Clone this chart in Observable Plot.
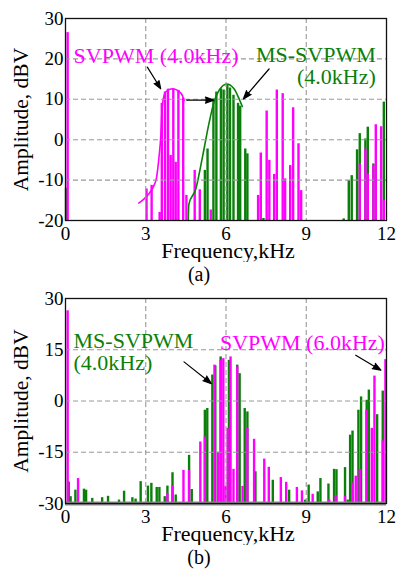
<!DOCTYPE html>
<html><head><meta charset="utf-8">
<script src="https://cdn.jsdelivr.net/npm/d3@7"></script>
<script src="https://cdn.jsdelivr.net/npm/@observablehq/plot@0.6"></script>
<style>
body{margin:0;background:#fff;}
#wrap{width:398px;}
.cap{width:398px;height:24px;line-height:24px;text-align:center;font-family:"Liberation Serif","Times New Roman",Times,serif;font-size:20px;color:#000;}
svg{display:block;}
</style></head><body><div id="wrap"></div>
<script>
// ---- data ----
const freqTicks = [0, 3, 6, 9, 12];
const ampTicksA = [-20, -10, 0, 10, 20, 30];
const ampTicksB = [-30, -15, 0, 15, 30];
const SV = "#ff00ff", MS = "#0a800a";

// (a) spectra [kHz, dBV]
const svpwmA = [[0.08,26.5],[3.03,-12.2],[3.22,-11.3],[3.52,-18],[3.60,9.0],[3.72,11.8],[3.83,12.5],[3.93,-3.9],[4.03,12.6],[4.12,-5.6],[4.22,12.2],[4.40,10.3],[4.52,-13.8],[4.83,-7.6],[5.02,-12.4],[5.43,-17.4],[7.20,-13.8],[7.30,-3.3],[7.52,7.1],[7.62,-5.1],[7.80,-8.6],[7.90,12.3],[8.12,11.4],[8.21,-9.7],[8.40,-6.4],[8.51,7.9],[8.71,-1.0],[8.81,-12.6],[11.00,-6.0],[11.21,-2.3],[11.30,-8.5],[11.51,-6.3],[11.60,3.7],[11.80,3.2],[11.90,-15]];
const msA = [[0.02,-12],[5.21,-7.6],[5.31,-2.3],[5.53,10.1],[5.64,11.8],[5.81,12.6],[5.91,12.3],[6.05,13.6],[6.15,12.8],[6.28,11.0],[6.45,9.0],[6.53,8.3],[6.72,-2.3],[6.80,-3.5],[7.40,-19.5],[10.40,-19.6],[10.59,-10.1],[10.70,-8.9],[10.90,-2.5],[11.00,1.5],[11.21,0.2],[11.30,3.1],[11.51,-6.0],[11.90,9.3]];
const envSvA = [[2.74,-15.7],[3.06,-13.8],[3.31,-11.3],[3.40,-9.5],[3.50,-4],[3.56,0.6],[3.62,8.5],[3.74,11.8],[3.99,12.6],[4.24,12.0],[4.37,10.9],[4.43,9.7]];
const envMsA = [[4.59,-20],[4.61,-16],[4.87,-12.2],[5.12,-4.3],[5.36,3.9],[5.55,9.3],[5.74,12.2],[6.03,13.8],[6.30,12.6],[6.49,10.1],[6.61,8.2]];
const arrowsA = [[3.06,17.95,3.56,12.6],[4.53,9.8,5.54,9.8],[7.61,17.5,6.65,10.1]];
const labelsA = [{f:0.3, db:18.9, text:"SVPWM (4.0kHz)", c:SV, a:"start"},{f:11.6, db:13.9, text:"MS-SVPWM\n(4.0kHz)", c:MS, a:"end"}];

// (b) spectra [kHz, dBV]
const svpwmB = [[0.08,26.4],[0.47,-22.7],[3.81,-27],[4.00,-24.9],[4.41,-20.3],[4.62,-20.3],[5.04,-12],[5.21,-10.5],[5.57,10.5],[5.70,-15],[5.80,11.9],[5.90,12.4],[5.98,-25],[6.06,-8],[6.17,12.9],[6.28,-20],[6.42,10.0],[6.62,-25],[6.80,-8],[7.05,-11.2],[7.43,-17.0],[7.60,-19.4],[8.05,-22.4],[8.25,-23.8],[8.65,-25.3],[8.84,-26.3],[9.24,-27.3],[9.86,-29],[10.10,-27.7],[10.45,-28],[10.73,-24],[10.85,-22],[11.00,-20],[11.25,-2.7],[11.45,-8],[11.55,7.3],[11.86,-11.7],[11.96,12.1]];
const msB = [[0.12,-23.7],[0.19,-28],[0.37,-26.1],[0.69,-25.8],[0.77,-26.1],[1.00,-28.5],[1.37,-28.3],[1.59,-27.9],[2.00,-29],[2.19,-26.4],[2.50,-28.3],[2.62,-28.7],[2.81,-23.6],[3.08,-24.9],[3.21,-24.1],[3.41,-25.3],[3.51,-25.3],[3.71,-28],[3.81,-24.9],[4.00,-21],[4.12,-27.5],[4.62,-15.9],[4.72,-25.9],[5.21,-2.7],[5.30,-2.2],[5.49,7.6],[5.60,10.3],[5.80,12.9],[6.11,11.9],[6.42,10.5],[6.51,8.0],[6.70,-2.2],[6.80,-3.2],[7.10,-20.7],[7.75,-23.2],[8.36,-26.1],[8.96,-29],[9.09,-24.6],[9.43,-26.6],[9.53,-22.7],[9.83,-24.3],[10.04,-20],[10.13,-20.1],[10.45,-19.5],[10.55,-29],[10.64,-10],[10.73,-8.8],[10.95,-2.7],[11.05,1.2],[11.26,0.2],[11.34,3.2],[11.65,-4],[11.86,2.9]];
const arrowsB = [[4.43,11.45,5.45,5.1],[10.85,13.4,11.79,9.0]];
const labelsB = [{f:0.3, db:9.0, text:"MS-SVPWM\n(4.0kHz)", c:MS, a:"start"},{f:11.94, db:14.8, text:"SVPWM (6.0kHz)", c:SV, a:"end"}];

const FONT = "'Liberation Serif', 'Times New Roman', Times, serif";

function chart({yTicks, sv, ms, envs, arrows, labels, height, marginTop, thickBase}) {
  const yMin = yTicks[0], yMax = yTicks[yTicks.length - 1];
  const inner = yTicks.slice(1, -1);
  const marks = [
    Plot.ruleX(ms, {x: d => d[0], y1: yMin, y2: d => d[1], stroke: MS, strokeWidth: 2.4}),
    Plot.ruleX(sv, {x: d => d[0], y1: yMin, y2: d => d[1], stroke: SV, strokeWidth: 2.4}),
    ...envs.map(e => Plot.line(e.data, {x: d => d[0], y: d => d[1], stroke: e.c, strokeWidth: 1.6, curve: "monotone-x"})),
    Plot.ruleX([3, 6, 9], {stroke: "#999", strokeDasharray: "5,3", strokeWidth: 1.1}),
    Plot.ruleY(inner, {stroke: "#999", strokeDasharray: "5,3", strokeWidth: 1.1}),
  ];
  if (thickBase) marks.push(Plot.ruleY([yMin], {stroke: "#888", strokeWidth: 4}));
  marks.push(
    Plot.frame({stroke: "#111", strokeWidth: 1.3}),
    Plot.axisX(freqTicks, {tickSize: 0, tickPadding: 6, label: null, fontSize: 19, tickFormat: d => String(d)}),
    Plot.axisY(yTicks, {tickSize: 0, tickPadding: 2, label: null, fontSize: 19, tickFormat: d => String(d)}),
    Plot.text(["Amplitude, dBV"], {text: d => d, frameAnchor: "left", dx: -38, rotate: -90, textAnchor: "middle", lineAnchor: "bottom", fontSize: 21.5}),
    Plot.text(["Frequency,kHz"], {text: d => d, frameAnchor: "bottom", dy: 37, dx: 2, textAnchor: "middle", lineAnchor: "bottom", fontSize: 22}),
    Plot.text(labels.filter(l => l.a === "start"), {x: "f", y: "db", text: "text", fill: "c", textAnchor: "start", lineAnchor: "bottom", fontSize: 22, lineHeight: 1.0}),
    Plot.text(labels.filter(l => l.a === "end"), {x: "f", y: "db", text: "text", fill: "c", textAnchor: "end", lineAnchor: "bottom", fontSize: 22, lineHeight: 1.0}),
    Plot.arrow(arrows, {x1: d => d[0], y1: d => d[1], x2: d => d[2], y2: d => d[3], stroke: "black", fill: "black", strokeWidth: 1.2, headLength: 11, headAngle: 40})
  );
  return Plot.plot({
    width: 398, height, marginTop, marginBottom: 42, marginLeft: 65, marginRight: 12,
    x: {domain: [0, 12]}, y: {domain: [yMin, yMax]},
    style: {fontFamily: FONT, fontSize: "19px", color: "#000", background: "#fff"},
    marks
  });
}

const wrap = document.getElementById("wrap");
wrap.appendChild(chart({yTicks: ampTicksA, sv: svpwmA, ms: msA,
  envs: [{data: envSvA, c: SV}, {data: envMsA, c: MS}], arrows: arrowsA, labels: labelsA,
  height: 262, marginTop: 18, thickBase: false}));
const ca = document.createElement("div"); ca.className = "cap"; ca.textContent = "(a)"; wrap.appendChild(ca);
wrap.appendChild(chart({yTicks: ampTicksB, sv: svpwmB, ms: msB, envs: [], arrows: arrowsB, labels: labelsB,
  height: 259, marginTop: 12, thickBase: true}));
const cb = document.createElement("div"); cb.className = "cap"; cb.textContent = "(b)"; wrap.appendChild(cb);
</script></body></html>
